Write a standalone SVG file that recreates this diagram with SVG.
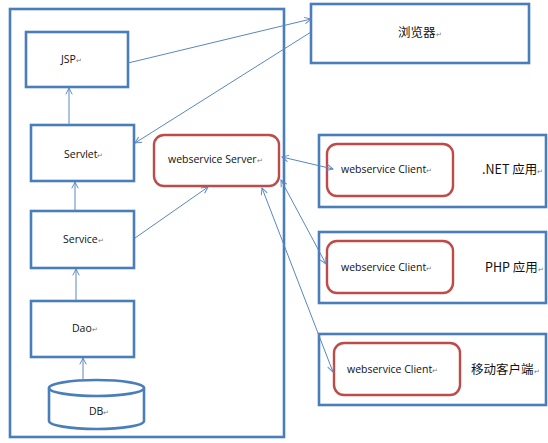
<svg xmlns="http://www.w3.org/2000/svg" width="548" height="443" viewBox="0 0 548 443">
<style>
.box{fill:#fff;stroke:#4A7EBB;stroke-width:2.6}
.rbox{fill:#fff;stroke:#BE4B48;stroke-width:2.4}
.t{font-family:"Open Sans","Liberation Sans","Noto Sans CJK SC",sans-serif;font-size:10.5px;fill:#111}
.c{font-family:"Noto Sans CJK SC","Liberation Sans",sans-serif;font-size:12.5px;fill:#111}
.m{font-size:7px;fill:#777}
.ln{stroke:#5B86C0;stroke-width:1;fill:none;marker-end:url(#ah)}
.bi{stroke:#5B86C0;stroke-width:1;fill:none;marker-end:url(#ah);marker-start:url(#ahs)}
</style>
<defs>
<marker id="ah" viewBox="0 0 10 10" refX="9" refY="5" markerWidth="8" markerHeight="8" orient="auto" markerUnits="userSpaceOnUse">
<path d="M1,1 L9,5 L1,9" fill="none" stroke="#5B86C0" stroke-width="1.2"/>
</marker>
<marker id="ahs" viewBox="0 0 10 10" refX="1" refY="5" markerWidth="8" markerHeight="8" orient="auto" markerUnits="userSpaceOnUse">
<path d="M9,1 L1,5 L9,9" fill="none" stroke="#5B86C0" stroke-width="1.2"/>
</marker>
</defs>
<rect width="548" height="443" fill="#fff"/>
<g id="container"><rect class="box" x="10" y="9" width="274" height="428" fill="none"/></g>
<g id="jsp"><rect class="box" x="26" y="32" width="102" height="55"/><text class="t" x="61" y="63">JSP<tspan class="m">↵</tspan></text></g>
<g id="servlet"><rect class="box" x="31" y="125" width="103" height="56"/><text class="t" x="64" y="158">Servlet<tspan class="m">↵</tspan></text></g>
<g id="service"><rect class="box" x="31" y="211" width="103" height="57"/><text class="t" x="63" y="243">Service<tspan class="m">↵</tspan></text></g>
<g id="dao"><rect class="box" x="31" y="301" width="103" height="56"/><text class="t" x="72" y="332">Dao<tspan class="m">↵</tspan></text></g>
<g id="db">
<path class="box" d="M49,388 L49,421 A47.5,8 0 0 0 144,421 L144,388"/>
<ellipse class="box" cx="96.5" cy="388" rx="47.5" ry="8"/>
<text class="t" x="89" y="415">DB<tspan class="m">↵</tspan></text></g>
<g id="ws-server"><rect class="rbox" x="154" y="135" width="125" height="51" rx="10"/><text class="t" x="168" y="163">webservice Server<tspan class="m">↵</tspan></text></g>
<g id="browser"><rect class="box" x="311" y="4" width="218" height="59"/><text class="c" x="398" y="37">浏览器<tspan class="m">↵</tspan></text></g>
<g id="net-app"><rect class="box" x="319" y="135" width="227" height="72"/>
<rect class="rbox" x="327" y="144" width="126" height="52" rx="10"/>
<text class="t" x="341" y="173">webservice Client<tspan class="m">↵</tspan></text>
<text class="c" x="482" y="174">.NET 应用<tspan class="m">↵</tspan></text></g>
<g id="php-app"><rect class="box" x="319" y="232" width="227" height="71"/>
<rect class="rbox" x="327" y="241" width="126" height="52" rx="10"/>
<text class="t" x="341" y="271">webservice Client<tspan class="m">↵</tspan></text>
<text class="c" x="485" y="272">PHP 应用<tspan class="m">↵</tspan></text></g>
<g id="mobile-app"><rect class="box" x="319" y="334" width="227" height="71"/>
<rect class="rbox" x="334" y="343" width="126" height="52" rx="10"/>
<text class="t" x="347" y="373">webservice Client<tspan class="m">↵</tspan></text>
<text class="c" x="471" y="374">移动客户端<tspan class="m">↵</tspan></text></g>
<g id="connectors">
<line class="ln" x1="128" y1="63" x2="311" y2="19"/>
<line class="ln" x1="311" y1="32" x2="135" y2="143"/>
<line class="ln" x1="69" y1="125" x2="69" y2="88"/>
<line class="ln" x1="75" y1="211" x2="75" y2="182"/>
<line class="ln" x1="76" y1="301" x2="76" y2="269"/>
<line class="ln" x1="83" y1="380" x2="83" y2="358"/>
<line class="ln" x1="135" y1="238" x2="208" y2="187"/>
<line class="bi" x1="282" y1="157" x2="333" y2="169"/>
<line class="bi" x1="281" y1="180" x2="326" y2="264"/>
<line class="bi" x1="262" y1="188" x2="333" y2="372"/>
</g>
</svg>
